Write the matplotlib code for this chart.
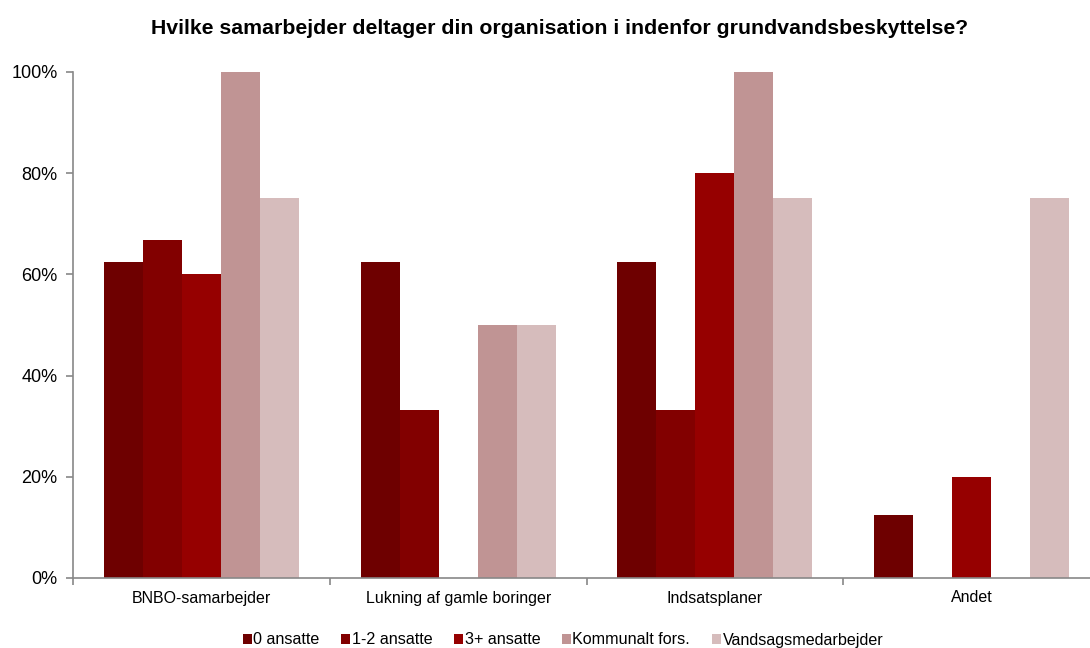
import numpy as np
import matplotlib.pyplot as plt
from matplotlib.ticker import PercentFormatter

plt.rcParams['font.family'] = ['Liberation Sans', 'DejaVu Sans']

categories = ['BNBO-samarbejder', 'Lukning af gamle boringer', 'Indsatsplaner', 'Andet']
series = ['0 ansatte', '1-2 ansatte', '3+ ansatte', 'Kommunalt fors.', 'Vandsagsmedarbejder']
values = {
    '0 ansatte': [62.5, 62.5, 62.5, 12.5],
    '1-2 ansatte': [66.7, 33.3, 33.3, 0],
    '3+ ansatte': [60, 0, 80, 20],
    'Kommunalt fors.': [100, 50, 100, 0],
    'Vandsagsmedarbejder': [75, 50, 75, 75],
}
colors = ['#6e0000', '#820000', '#960000', '#c09494', '#d6bcbc']

fig = plt.figure(figsize=(10.9, 6.48), dpi=100)
ax = fig.add_axes([73 / 1090, 1 - 578 / 648, (1100 - 73) / 1090, (578 - 72) / 648])

x = np.arange(len(categories))
w = 0.152
for i, s in enumerate(series):
    ax.bar(x + (i - 2) * w, values[s], width=w, color=colors[i], label=s)

ax.set_xlim(-0.5, len(categories) - 0.5)
ax.set_ylim(0, 100)
ax.set_yticks(np.arange(0, 101, 20))
ax.yaxis.set_major_formatter(PercentFormatter(decimals=0))
ax.set_xticks(np.arange(-0.5, len(categories), 1))
ax.set_xticklabels([])
ax.set_xticks(x, minor=True)
ax.set_xticklabels(categories, minor=True)
ax.tick_params(axis='x', which='minor', length=0, pad=9, labelsize=11.5)
ax.tick_params(axis='x', which='major', length=5, color='#888888', width=1.2)
ax.tick_params(axis='y', length=5, color='#888888', width=1.2, labelsize=13, pad=6)
for sp in ['top', 'right']:
    ax.spines[sp].set_visible(False)
for sp in ['left', 'bottom']:
    ax.spines[sp].set_color('#888888')
    ax.spines[sp].set_linewidth(1.2)

fig.suptitle('Hvilke samarbejder deltager din organisation i indenfor grundvandsbeskyttelse?',
             x=560 / 1090, y=1 - 28 / 648, va='center', fontsize=15.3, fontweight='bold')

fig.legend(loc='center', bbox_to_anchor=(563 / 1090, 1 - 640 / 648), ncol=5, frameon=False,
           fontsize=11.6, handlelength=0.55, handleheight=0.55, handletextpad=0.1,
           columnspacing=1.35, borderaxespad=0)

fig.savefig('out.png', dpi=100)
